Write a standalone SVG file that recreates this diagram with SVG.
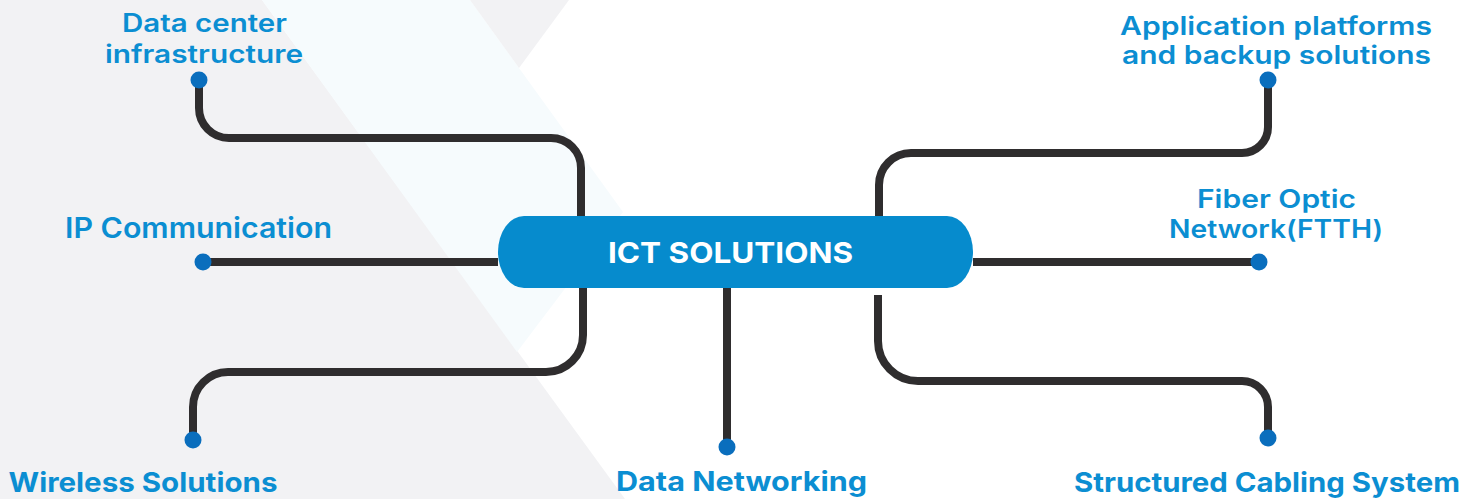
<svg xmlns="http://www.w3.org/2000/svg" width="1478" height="499" viewBox="0 0 1478 499">
  <defs>
    <style>
      .bg-gray { fill: #f2f2f4; }
      .bg-light { fill: #f6fbfd; }
      .conn { fill: none; stroke: #2f2d2e; stroke-width: 8; stroke-linejoin: round; }
      .dot { fill: #0a6ebd; }
      .lbl { fill: #0b8ed2; font-family: Inter, "Open Sans", "Liberation Sans", sans-serif; text-anchor: middle; }
      .top { font-size: 25px; font-weight: 600; }
      .ip { font-size: 28px; font-weight: 600; }
      .bot { font-size: 27px; font-weight: 700; }
      .pill { fill: #068bcd; }
      .title { fill: #ffffff; font-family: Inter, "Open Sans", "Liberation Sans", sans-serif; font-size: 29px; font-weight: 700; text-anchor: middle; }
    </style>
  </defs>
  <rect x="0" y="0" width="1478" height="499" fill="#ffffff"/>
  <g id="background">
    <polygon class="bg-gray" points="0,0 262,0 625,499 0,499"/>
    <polygon class="bg-light" points="262,0 470,0 623,212 517,352"/>
    <polygon class="bg-gray" points="470,0 569,0 519,68"/>
  </g>
  <g id="connectors">
    <path class="conn" d="M199,84 V108 A30,30 0 0 0 229,138 H551 A30,30 0 0 1 581,168 V216"/>
    <path class="conn" d="M203,262 H498"/>
    <path class="conn" d="M583,288 V335 A37,37 0 0 1 546,372 H228 A35,35 0 0 0 193,407 V440"/>
    <path class="conn" d="M727,288 V447"/>
    <path class="conn" d="M1268,80 V127 A26,26 0 0 1 1242,153 H911 A32,32 0 0 0 879,185 V216"/>
    <path class="conn" d="M973,262 H1259"/>
    <path class="conn" d="M878,295 V341 A40,40 0 0 0 918,381 H1242 A26,26 0 0 1 1268,407 V438"/>
  </g>
  <g id="center">
    <rect class="pill" x="498" y="216" width="475" height="72" rx="26" ry="36"/>
    <text class="title" x="730.5" y="263" textLength="245" lengthAdjust="spacingAndGlyphs">ICT SOLUTIONS</text>
  </g>
  <g id="node-datacenter">
    <circle class="dot" cx="199" cy="80" r="8.5"/>
    <text class="lbl top" x="204.5" y="32" textLength="165" lengthAdjust="spacingAndGlyphs">Data center</text>
    <text class="lbl top" x="204" y="63" textLength="198" lengthAdjust="spacingAndGlyphs">infrastructure</text>
  </g>
  <g id="node-ip">
    <circle class="dot" cx="203" cy="262" r="8.5"/>
    <text class="lbl ip" x="198.5" y="238" textLength="267" lengthAdjust="spacingAndGlyphs">IP Communication</text>
  </g>
  <g id="node-wireless">
    <circle class="dot" cx="193" cy="440" r="8.5"/>
    <text class="lbl bot" x="143" y="492" textLength="269" lengthAdjust="spacingAndGlyphs">Wireless Solutions</text>
  </g>
  <g id="node-datanet">
    <circle class="dot" cx="727" cy="447" r="8.5"/>
    <text class="lbl bot" x="741.5" y="491" textLength="251" lengthAdjust="spacingAndGlyphs">Data Networking</text>
  </g>
  <g id="node-app">
    <circle class="dot" cx="1268" cy="80" r="8.5"/>
    <text class="lbl top" x="1276" y="35" textLength="312" lengthAdjust="spacingAndGlyphs">Application platforms</text>
    <text class="lbl top" x="1276.5" y="64" textLength="309" lengthAdjust="spacingAndGlyphs">and backup solutions</text>
  </g>
  <g id="node-fiber">
    <circle class="dot" cx="1259" cy="262" r="8.5"/>
    <text class="lbl top" x="1276.5" y="208" textLength="159" lengthAdjust="spacingAndGlyphs">Fiber Optic</text>
    <text class="lbl top" x="1276" y="238" textLength="214" lengthAdjust="spacingAndGlyphs">Network(FTTH)</text>
  </g>
  <g id="node-cabling">
    <circle class="dot" cx="1268" cy="438" r="8.5"/>
    <text class="lbl bot" x="1267" y="492" textLength="386" lengthAdjust="spacingAndGlyphs">Structured Cabling System</text>
  </g>
</svg>
